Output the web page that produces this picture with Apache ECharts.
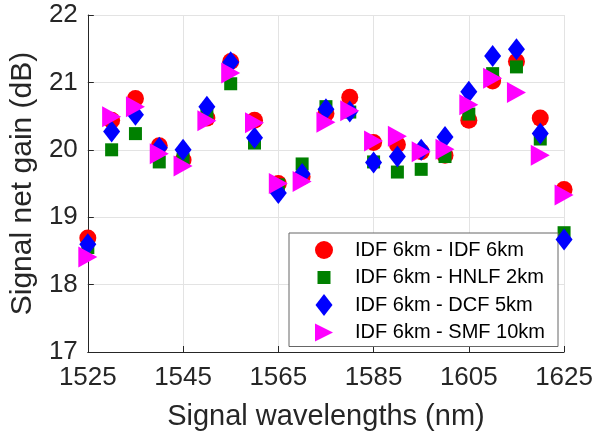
<!DOCTYPE html>
<html>
<head>
<meta charset="utf-8">
<script src="https://cdn.jsdelivr.net/npm/echarts@6/dist/echarts.min.js"></script>
<style>
html,body{margin:0;padding:0;background:#fff;}
#c{width:596px;height:437px;}
</style>
</head>
<body>
<div id="c"></div>
<script>
const wavelengths = [1525,1530,1535,1540,1545,1550,1555,1560,1565,1570,1575,1580,1585,1590,1595,1600,1605,1610,1615,1620,1625];
const seriesNames = ['IDF 6km - IDF 6km','IDF 6km - HNLF 2km','IDF 6km - DCF 5km','IDF 6km - SMF 10km'];
const idfIdf  = [18.69,20.44,20.76,20.06,19.85,20.47,21.31,20.44,19.50,19.60,20.54,20.78,20.11,20.08,19.97,19.92,20.44,21.02,21.31,20.47,19.41];
const idfHnlf = [18.55,20.00,20.24,19.82,19.86,20.55,20.98,20.10,19.48,19.79,20.64,20.56,19.82,19.67,19.71,19.90,20.53,21.13,21.23,20.16,18.77];
const idfDcf  = [18.60,20.27,20.52,20.03,20.00,20.64,21.30,20.18,19.36,19.64,20.60,20.57,19.81,19.90,20.00,20.19,20.86,21.39,21.49,20.24,18.67];
const idfSmf  = [18.41,20.49,20.64,19.94,19.76,20.43,21.14,20.40,19.50,19.53,20.41,20.58,20.13,20.20,19.97,20.01,20.67,21.06,20.85,19.92,19.33];
const xTicks = {min:1525, max:1625, interval:20};
const yTicks = {min:17, max:22, interval:1};

const colors = ['#ff0000','#008000','#0000ff','#ff00ff'];
const FONT = '"Liberation Sans", Arial, Helvetica, sans-serif';
const TXT = '#262626';

function pairs(vals){ return wavelengths.map((w,i)=>[w, vals[i]]); }
const valueSets = [idfIdf, idfHnlf, idfDcf, idfSmf];
const symbols = ['circle','rect','diamond','path://M0,0L1,0.5L0,1Z'];
const sizes = [17, 13, [17,22], [19,21]];
const legendIcons = [
  'path://M0,0M36,22M1,11A9,9,0,1,0,19,11A9,9,0,1,0,1,11Z',
  'path://M0,0M36,22M3.5,4.5H16.5V17.5H3.5Z',
  'path://M0,0M36,22M10,0L18.5,11L10,22L1.5,11Z',
  'path://M0,0M36,22M1,2L19,11L1,20Z'
];

const chart = echarts.init(document.getElementById('c'), null, {renderer:'canvas'});
chart.setOption({
  animation:false,
  backgroundColor:'#fff',
  grid:{left:83, right:31, top:15, bottom:85, containLabel:false},
  xAxis:{
    type:'value', min:xTicks.min, max:xTicks.max, interval:xTicks.interval,
    name:'Signal wavelengths (nm)', nameLocation:'middle', nameGap:50,
    nameTextStyle:{fontFamily:FONT, fontSize:29, color:TXT},
    axisLine:{show:true, lineStyle:{color:TXT, width:1}},
    axisTick:{show:true, inside:true, length:6, lineStyle:{color:TXT}},
    axisLabel:{fontFamily:FONT, fontSize:26, color:TXT, margin:13, formatter:v=>String(v)},
    splitLine:{show:true, lineStyle:{color:'#e3e3e3', width:1}}
  },
  yAxis:{
    type:'value', min:yTicks.min, max:yTicks.max, interval:yTicks.interval,
    name:'Signal net gain (dB)', nameLocation:'middle', nameGap:45,
    nameTextStyle:{fontFamily:FONT, fontSize:30, color:TXT},
    axisLine:{show:true, lineStyle:{color:TXT, width:1}},
    axisTick:{show:true, inside:true, length:6, lineStyle:{color:TXT}},
    axisLabel:{fontFamily:FONT, fontSize:26, color:TXT, margin:10, formatter:v=>String(v)},
    splitLine:{show:true, lineStyle:{color:'#e3e3e3', width:1}}
  },
  legend:{
    orient:'vertical', left:289, top:233,
    itemWidth:36, itemHeight:22, itemGap:5.5,
    padding:[6,13,3,25],
    backgroundColor:'#fff', borderColor:'#666', borderWidth:1,
    textStyle:{fontFamily:FONT, fontSize:20, color:'#000'},
    data: seriesNames.map((n,i)=>({name:n, icon:legendIcons[i], itemStyle:{color:colors[i]}}))
  },
  series: seriesNames.map((n,i)=>({
    name:n, type:'scatter', data:pairs(valueSets[i]),
    symbol:symbols[i], symbolSize:sizes[i],
    itemStyle:{color:colors[i], opacity:1},
    z:2+i
  }))
});
</script>
</body>
</html>
